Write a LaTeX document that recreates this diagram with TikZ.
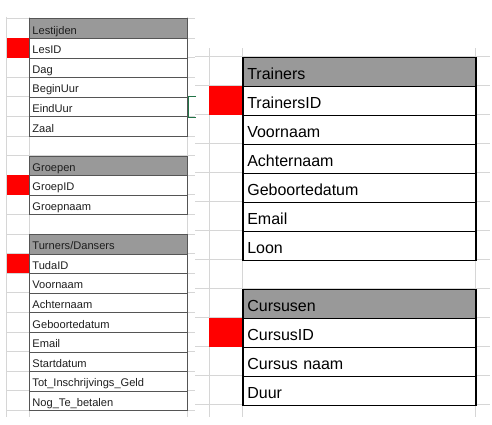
\documentclass[tikz,border=0pt]{standalone}
\usepackage{fontspec}
\setmainfont{Liberation Sans}
\definecolor{gridc}{HTML}{D6D6D6}
\definecolor{hdr}{HTML}{999999}
\definecolor{lborder}{HTML}{555555}
\definecolor{ltext}{HTML}{1E1E1E}
\definecolor{selgreen}{HTML}{217346}
\definecolor{keyred}{HTML}{FF0000}
\tikzset{
  gridline/.style={draw=gridc, line width=0.8pt},
  lcellstyle/.style={draw=lborder, line width=0.9pt, rectangle, anchor=north west,
    inner xsep=2.7pt, inner ysep=0pt, text width=152.6pt, align=left,
    minimum height=19.6pt, text height=15.4pt, text depth=4.2pt,
    font=\fontsize{11.1}{12}\selectfont, text=ltext},
  rcellstyle/.style={draw=black, line width=1.2pt, rectangle, anchor=north west,
    inner xsep=4.4pt, inner ysep=0pt, text width=224.2pt, align=left,
    minimum height=29pt, text height=22.4pt, text depth=6.6pt,
    font=\fontsize{16}{18}\selectfont, text=black},
  hdrfill/.style={fill=hdr},
  plain/.style={fill=white},
  keybox/.style={fill=keyred, draw=none, rectangle, anchor=north east, inner sep=0pt},
  lkey/.style={keybox, minimum width=22.6pt, minimum height=19.6pt},
  rkey/.style={keybox, minimum width=33pt, minimum height=29pt},
  selbox/.style={draw=selgreen, line width=1.2pt}
}
\newcommand\lcell[4]{\node[lcellstyle,#4] (#1) at (29.3, {18.3+19.6*#2}) {#3};}
\newcommand\rcell[4]{\node[rcellstyle,#4] (#1) at (242.3, {56.5+29*#2}) {#3};}
\begin{document}
\begin{tikzpicture}[x=1pt,y=-1pt]
\useasboundingbox (0,0) rectangle (492,424);
\fill[white] (0,0) rectangle (492,424);
% left sheet grid
\foreach \k in {0,...,20} \draw[gridline] (6.7,{18.3+19.6*\k}) -- (195,{18.3+19.6*\k});
\foreach \xx in {6.7,29.3,187.3} \draw[gridline] (\xx,16.7) -- (\xx,417);
% right sheet
\fill[white] (195,48.3) rectangle (490,417);
\foreach \k in {0,...,12} \draw[gridline] (195,{56.5+29*\k}) -- (490,{56.5+29*\k});
\foreach \xx in {209.3,242.3,475.3} \draw[gridline] (\xx,48.3) -- (\xx,417);
% Lestijden
\lcell{lh}{0}{Lestijden}{hdrfill}
\lcell{LesID}{1}{LesID}{plain}
\lcell{Dag}{2}{Dag}{plain}
\lcell{BeginUur}{3}{BeginUur}{plain}
\lcell{EindUur}{4}{EindUur}{plain}
\lcell{Zaal}{5}{Zaal}{plain}
% Groepen
\lcell{gh}{7}{Groepen}{hdrfill}
\lcell{GroepID}{8}{GroepID}{plain}
\lcell{Groepnaam}{9}{Groepnaam}{plain}
% Turners/Dansers
\lcell{th}{11}{Turners/Dansers}{hdrfill}
\lcell{TudaID}{12}{TudaID}{plain}
\lcell{tVoornaam}{13}{Voornaam}{plain}
\lcell{tAchternaam}{14}{Achternaam}{plain}
\lcell{tGeboortedatum}{15}{Geboortedatum}{plain}
\lcell{tEmail}{16}{Email}{plain}
\lcell{tStartdatum}{17}{Startdatum}{plain}
\lcell{tTot}{18}{Tot\_Inschrijvings\_Geld}{plain}
\lcell{tNog}{19}{Nog\_Te\_betalen}{plain}
% Trainers
\rcell{trh}{0}{Trainers}{hdrfill}
\rcell{TrainersID}{1}{TrainersID}{plain}
\rcell{rVoornaam}{2}{Voornaam}{plain}
\rcell{rAchternaam}{3}{Achternaam}{plain}
\rcell{rGeboortedatum}{4}{Geboortedatum}{plain}
\rcell{rEmail}{5}{Email}{plain}
\rcell{rLoon}{6}{Loon}{plain}
% Cursusen
\rcell{ch}{8}{Cursusen}{hdrfill}
\rcell{CursusID}{9}{CursusID}{plain}
\rcell{Cursusnaam}{10}{Cursus naam}{plain}
\rcell{Duur}{11}{Duur}{plain}
% keys
\node[lkey] (k1) at (LesID.north west) {};
\node[lkey] (k2) at (GroepID.north west) {};
\node[lkey] (k3) at (TudaID.north west) {};
\node[rkey] (k4) at (TrainersID.north west) {};
\node[rkey] (k5) at (CursusID.north west) {};
% selection bracket
\coordinate (s1) at ([xshift=8pt]EindUur.north east);
\coordinate (s2) at ([xshift=8pt]EindUur.south east);
\draw[selbox] (s1) -- (EindUur.north east) -- (EindUur.south east) -- (s2);
\end{tikzpicture}
\end{document}
